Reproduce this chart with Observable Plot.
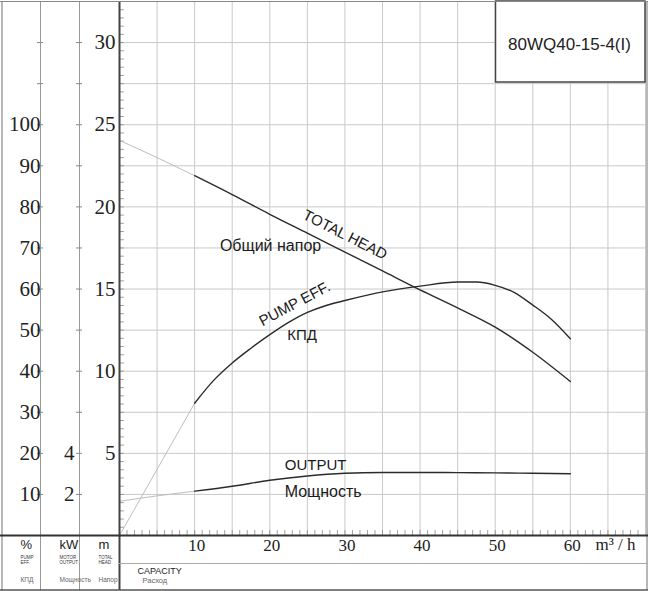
<!DOCTYPE html>
<html><head><meta charset="utf-8">
<script src="https://cdn.jsdelivr.net/npm/d3@7"></script>
<script src="https://cdn.jsdelivr.net/npm/@observablehq/plot@0.6"></script>
<style>body{margin:0;background:#fff}</style>
</head><body><div id="chart"></div>
<script>
// ---- data ----
const flow = [0, 5, 10, 15, 20, 25, 30, 35, 40, 45, 50, 55, 60];             // m³/h
const headM = [24.05, 23.0, 21.9, 20.75, 19.55, 18.4, 17.25, 16.1, 14.95, 13.85, 12.68, 11.15, 9.37]; // m
const outputKW = [1.67, 1.93, 2.16, 2.4, 2.69, 2.9, 3.03, 3.07, 3.07, 3.06, 3.05, 3.03, 3.01];  // kW
const flowEff = [0, 10, 12.5, 15, 17.5, 20, 22.5, 25, 27.5, 30, 35, 40, 45, 47.5, 50, 52.5, 55, 57.5, 60];
const effPct = [0, 32.2, 37.7, 42.0, 45.6, 48.9, 51.9, 54.3, 56.0, 57.2, 59.3, 60.7, 61.7, 61.7, 60.9, 59.2, 56.1, 52.6, 47.9]; // %
const xTicks = [10, 20, 30, 40, 50, 60];
const mTicks = [5, 10, 15, 20, 25, 30];
const pctTicks = [10, 20, 30, 40, 50, 60, 70, 80, 90, 100];
const kwTicks = [2, 4];
const modelName = "80WQ40-15-4(I)";
const curveLabels = [
  {text: "TOTAL HEAD", x: 30.0, y: 18.3, rotate: 27, size: 15},
  {text: "Общий напор", x: 20.1, y: 17.6, rotate: 0, size: 16},
  {text: "PUMP EFF.", x: 23.3, y: 14.1, rotate: -28, size: 15},
  {text: "КПД", x: 24.3, y: 12.17, rotate: 0, size: 15},
  {text: "OUTPUT", x: 26.1, y: 4.26, rotate: 0, size: 15},
  {text: "Мощность", x: 27.1, y: 2.68, rotate: 0, size: 16}
];
const cells = [
  {unit: "%", en: "PUMP\nEFF.", ru: "КПД", dx: -99},
  {unit: "kW", en: "MOTOR\nOUTPUT", ru: "Мощность", dx: -60},
  {unit: "m", en: "TOTAL\nHEAD", ru: "Напор", dx: -21}
];
// ---- axis relations (left scales share the metre axis) ----
const M_PER_PCT = 0.25;   // 10 % = 2.5 m
const M_PER_KW = 1.25;    // 2 kW = 2.5 m

// ---- build series ----
const rows = [];
flow.forEach((q, i) => {
  rows.push({series: "head", q, y: headM[i]});
  rows.push({series: "output", q, y: outputKW[i] * M_PER_KW});
});
flowEff.forEach((q, i) => rows.push({series: "eff", q, y: effPct[i] * M_PER_PCT}));
const lightRows = rows.filter(d => d.q <= 10);
const darkRows = rows.filter(d => d.q >= 10);

const W = 648, H = 591, ML = 119, MR = 3, MT = 1, MB = 56;
const xMax = 70, yMax = 32.5;
const kx = (W - ML - MR) / xMax, ky = (H - MT - MB) / yMax;
const pxX = p => (p - ML) / kx;          // pixel -> data helpers for table decoration
const pxY = p => (H - MB - p) / ky;

const gridX = d3.range(5, 71, 5);
const gridY = d3.range(2.5, 33, 2.5);
const serif = "'Liberation Serif', 'DejaVu Serif', serif";
const sans = "'Liberation Sans', Arial, sans-serif";

const box = {x1: pxX(495.5), x2: xMax, y1: pxY(82), y2: yMax};

const plot = Plot.plot({
  width: W, height: H,
  marginLeft: ML, marginRight: MR, marginTop: MT, marginBottom: MB,
  x: {domain: [0, xMax], axis: null},
  y: {domain: [0, yMax], axis: null},
  style: {background: "#fff", fontFamily: sans, color: "#222"},
  marks: [
    // grid
    Plot.ruleX(gridX, {y1: 0, y2: yMax, stroke: "#c9c9c9", strokeWidth: 1}),
    Plot.ruleY(gridY, {x1: 0, x2: xMax, stroke: "#c9c9c9", strokeWidth: 1}),
    // minor ticks
    Plot.ruleY(d3.range(0.5, 32.5, 0.5), {x1: 0, x2: 0.65, stroke: "#888", strokeWidth: 0.8}),
    Plot.ruleX(d3.range(1, 70, 1), {y1: 0, y2: 0.3, stroke: "#888", strokeWidth: 0.8}),
    // title box
    Plot.rect([box], {x1: "x1", x2: "x2", y1: "y1", y2: "y2", fill: "#fff", stroke: "#444", strokeWidth: 1.5}),
    Plot.text([modelName], {x: pxX(569), y: pxY(44), text: d => d, fontSize: 17, fill: "#222"}),
    // curves
    Plot.line(lightRows, {x: "q", y: "y", z: "series", stroke: "#bdbdbd", strokeWidth: 1}),
    Plot.line(darkRows, {x: "q", y: "y", z: "series", stroke: "#2b2b2b", strokeWidth: 1.4, curve: "monotone-x"}),
    // curve labels
    ...curveLabels.map(l => Plot.text([l], {x: "x", y: "y", text: "text", rotate: l.rotate, fontSize: l.size, fill: "#1a1a1a"})),
    // table lines
    Plot.ruleX([0], {y1: pxY(H - 1), y2: yMax, stroke: "#444", strokeWidth: 2}),
    Plot.ruleX([0], {y1: pxY(H - 1), y2: yMax, dx: -40, stroke: "#999", strokeWidth: 1}),
    Plot.ruleX([0], {y1: pxY(H - 1), y2: yMax, dx: -79, stroke: "#999", strokeWidth: 1}),
    Plot.ruleX([0], {y1: pxY(H - 1), y2: yMax, dx: -117.5, stroke: "#888", strokeWidth: 1.2}),
    Plot.ruleX([xMax], {y1: pxY(H - 1), y2: yMax, dx: 1.5, stroke: "#888", strokeWidth: 1.2}),
    Plot.ruleY([yMax], {x1: pxX(0), x2: pxX(W), stroke: "#888", strokeWidth: 1}),
    Plot.ruleY([0], {x1: pxX(0), x2: pxX(W), stroke: "#333", strokeWidth: 2}),
    Plot.ruleY([pxY(563)], {x1: 0, x2: pxX(W), stroke: "#aaa", strokeWidth: 1}),
    Plot.ruleY([pxY(589.5)], {x1: pxX(0), x2: pxX(W), stroke: "#555", strokeWidth: 1.5}),
    // small ticks on column lines
    Plot.axisY(gridY, {anchor: "left", tickSize: 6, tickFormat: () => "", dx: -76, stroke: "#888", label: null}),
    Plot.axisY(gridY, {anchor: "left", tickSize: 6, tickFormat: () => "", dx: -37, stroke: "#888", label: null}),
    // left tick labels
    Plot.text(mTicks, {y: d => d, text: d => `${d}`, frameAnchor: "left", textAnchor: "end", dx: -4, fontSize: 21, fontFamily: serif, fill: "#222"}),
    Plot.text(kwTicks, {y: d => d * M_PER_KW, text: d => `${d}`, frameAnchor: "left", textAnchor: "end", dx: -45, fontSize: 21, fontFamily: serif, fill: "#222"}),
    Plot.text(pctTicks, {y: d => d * M_PER_PCT, text: d => `${d}`, frameAnchor: "left", textAnchor: "end", dx: -79, fontSize: 21, fontFamily: serif, fill: "#222"}),
    // bottom tick labels
    Plot.text(xTicks, {x: d => d, text: d => `${d}`, frameAnchor: "bottom", dx: 2, dy: 15, fontSize: 17, fontFamily: serif, fill: "#222"}),
    Plot.text(["m³ / h"], {frameAnchor: "bottom-right", textAnchor: "start", dx: -50, dy: 14, fontSize: 17, fontFamily: serif, fill: "#222"}),
    // header cells
    ...cells.flatMap(c => [
      Plot.text([c.unit], {frameAnchor: "bottom-left", dx: c.dx, dy: 13, fontSize: 13, fill: "#222"}),
      Plot.text([c.en], {frameAnchor: "bottom-left", dx: c.dx, dy: 28, fontSize: 4.5, lineHeight: 1.1, fill: "#333"}),
      Plot.text([c.ru], {frameAnchor: "bottom-left", dx: c.dx, dy: 46, fontSize: 6.5, fill: "#666"})
    ]),
    Plot.text(["CAPACITY"], {frameAnchor: "bottom-left", textAnchor: "start", dx: 18, dy: 38, fontSize: 9, fill: "#222", style: "letter-spacing:-0.3px"}),
    Plot.text(["Расход"], {frameAnchor: "bottom-left", textAnchor: "start", dx: 23, dy: 47, fontSize: 7.5, fill: "#666"})
  ]
});
document.getElementById("chart").appendChild(plot);
</script>
</body></html>
